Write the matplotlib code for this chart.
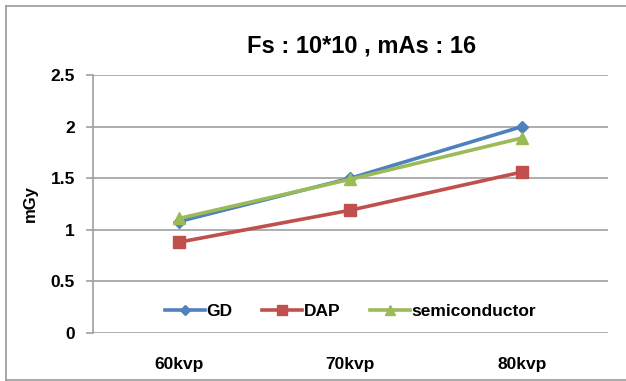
import matplotlib
matplotlib.use("Agg")
import matplotlib.pyplot as plt
from matplotlib.lines import Line2D

plt.rcParams['font.family'] = ['Liberation Sans', 'DejaVu Sans']

categories = ["60kvp", "70kvp", "80kvp"]
gd = [1.08, 1.50, 2.00]
dap = [0.88, 1.19, 1.56]
semi = [1.11, 1.49, 1.89]

fig = plt.figure(figsize=(6.26, 3.81), dpi=100)
ax = fig.add_axes([0.1486, 0.126, 0.822, 0.677])

# chart frame (left, top, bottom edges visible in the original)
W, H = 626, 381
frame_col = "#9a9a9a"
fig.add_artist(Line2D([6 / W, 6 / W], [1 - 6 / H, 1 - 380 / H], transform=fig.transFigure, color=frame_col, lw=1.2))
fig.add_artist(Line2D([6 / W, 1], [1 - 6 / H, 1 - 6 / H], transform=fig.transFigure, color=frame_col, lw=1.2))
fig.add_artist(Line2D([6 / W, 1], [1 - 380 / H, 1 - 380 / H], transform=fig.transFigure, color=frame_col, lw=1.2))

xs = [i + 0.5 for i in range(len(categories))]
ax.plot(xs, gd, color="#4F81BD", marker="D", markersize=6.5, linewidth=2.6, label="GD")
ax.plot(xs, dap, color="#C0504D", marker="s", markersize=8.5, linewidth=2.6, label="DAP")
ax.plot(xs, semi, color="#9BBB59", marker="^", markersize=9, linewidth=2.6, label="semiconductor")

ax.set_xlim(0, 3)
ax.set_ylim(0, 2.5)
ax.set_yticks([0, 0.5, 1, 1.5, 2, 2.5])
ax.set_yticklabels(["0", "0.5", "1", "1.5", "2", "2.5"])
ax.set_xticks(xs)
ax.set_xticklabels(categories)
for lbl in ax.get_xticklabels() + ax.get_yticklabels():
    lbl.set_fontweight("bold")
    lbl.set_fontsize(12.5)
ax.tick_params(axis="x", length=0, pad=17)
ax.tick_params(axis="y", length=5, width=1.2, color="#a0a0a0", pad=8)

ax.grid(axis="y", color="#a0a0a0", linewidth=1.2)
ax.set_axisbelow(True)
for side in ["top", "right", "bottom"]:
    ax.spines[side].set_visible(False)
ax.spines["left"].set_color("#a0a0a0")
ax.spines["left"].set_linewidth(1.2)

ax.set_ylabel("mGy", fontweight="bold", fontsize=12, labelpad=9)
fig.text(0.578, 0.879, "Fs : 10*10 , mAs : 16", ha="center", va="center",
         fontsize=17, fontweight="bold")

leg = ax.legend(loc="center", bbox_to_anchor=(0.5, 0.083), ncol=3, frameon=False,
                prop={"weight": "bold", "size": 12.5}, handlelength=2.3,
                handletextpad=0.1, columnspacing=1.7, markerscale=0.8)

fig.savefig("out.png", dpi=100)
